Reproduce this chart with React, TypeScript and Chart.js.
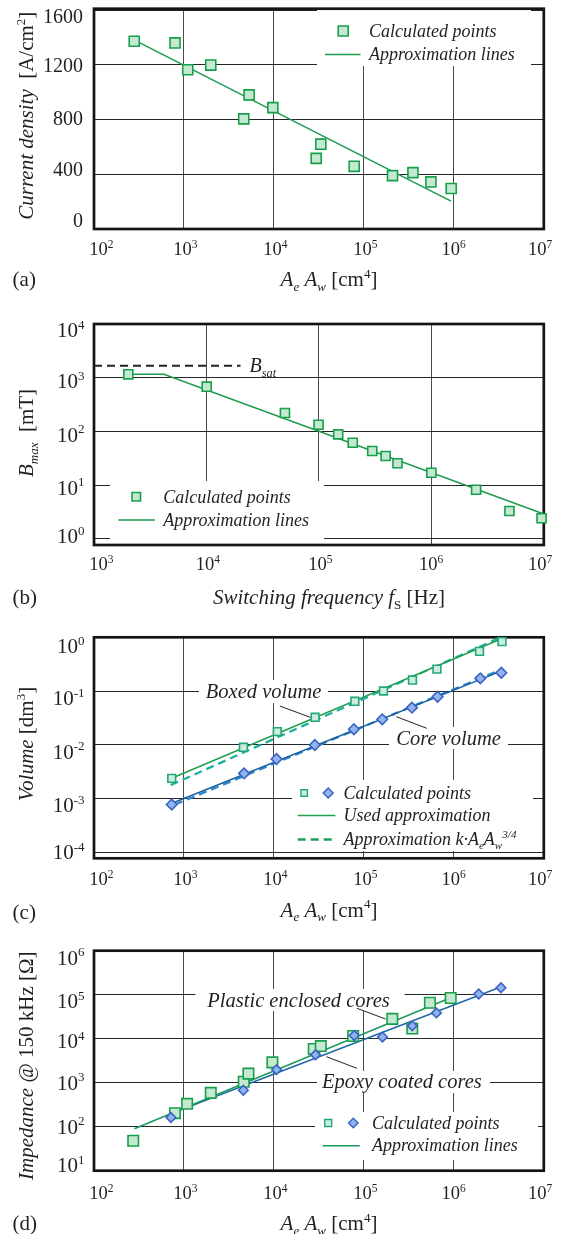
import React, { useEffect, useRef } from 'react';
import { Chart, registerables } from 'chart.js';
Chart.register(...registerables);

const W = 563;
const EXTRA_H = 24;
const FAM = '"Liberation Serif", "Times New Roman", Times, serif';
const INK = '#231f20';

// ---------- (a) Current density ----------
const aCalcX = [280, 796, 1102, 1986, 5300, 4620, 9730, 33200, 29500, 78000, 208000, 351000, 556000, 935000];
const aCalcY = [1372, 1360, 1164, 1198, 980, 805, 887, 620, 516, 458, 390, 412, 344, 296];
const aApproxX = [319, 929000];
const aApproxY = [1362, 204];
const aXTicks = [1e2, 1e3, 1e4, 1e5, 1e6, 1e7];
const aYTicks = [0, 400, 800, 1200, 1600];

// ---------- (b) Bmax vs switching frequency ----------
const bCalcX = [2018, 10050, 49900, 99300, 148500, 200000, 298000, 392000, 500000, 1000000, 2500000, 4950000, 9550000];
const bCalcY = [1157, 680, 220, 133, 88, 61.6, 43.2, 34.8, 25.5, 17.0, 8.2, 3.3, 2.41];
const bApproxX = [2018, 4190, 1e7];
const bApproxY = [1157, 1157, 2.9];
const bSatX = [1000, 20100];
const bSatY = [1670, 1670];
const bXTicks = [1e3, 1e4, 1e5, 1e6, 1e7];
const bYTicks = [1, 10, 100, 1000, 10000];

// ---------- (c) Volume ----------
const cBoxedX = [731, 4580, 10900, 28700, 79400, 165000, 347000, 649000, 1930000, 3430000];
const cBoxedY = [0.00236, 0.00895, 0.0175, 0.0324, 0.0643, 0.1, 0.16, 0.256, 0.548, 0.83];
const cCoreX = [731, 4660, 10700, 28500, 77400, 160000, 342000, 659000, 1970000, 3370000];
const cCoreY = [0.00077, 0.00292, 0.00542, 0.00987, 0.0194, 0.0297, 0.0489, 0.078, 0.172, 0.219];
const cBoxedUsedX = [731, 3430000];
const cBoxedUsedY = [0.00237, 0.95];
const cBoxedKX = [713, 3200000];
const cBoxedKY = [0.00177, 0.97];
const cCoreUsedX = [762, 3570000];
const cCoreUsedY = [0.00083, 0.245];
const cCoreKX = [796, 3400000];
const cCoreKY = [0.00077, 0.252];
const cXTicks = [1e2, 1e3, 1e4, 1e5, 1e6, 1e7];
const cYTicks = [1e-4, 1e-3, 1e-2, 1e-1, 1];

// ---------- (d) Impedance ----------
const dPlasticX = [273, 794, 1084, 1986, 4620, 5210, 9620, 27700, 33200, 76000, 207000, 345000, 542000, 923000];
const dPlasticY = [48, 203, 331, 587, 1050, 1607, 2900, 5820, 6800, 11500, 28200, 17000, 65700, 84000];
const dEpoxyX = [716, 4570, 10700, 29000, 78100, 161000, 345000, 640000, 1890000, 3340000];
const dEpoxyY = [162, 673, 1980, 4320, 11800, 10900, 19600, 38500, 104000, 144000];
const dPlasticLineX = [281, 905000];
const dPlasticLineY = [90, 84000];
const dEpoxyLineX = [723, 3370000];
const dEpoxyLineY = [200, 151000];
const dXTicks = [1e2, 1e3, 1e4, 1e5, 1e6, 1e7];
const dYTicks = [10, 100, 1e3, 1e4, 1e5, 1e6];

// ---------- colours ----------
const G_FILL = '#c4e8d0';
const G_EDGE = '#17a04b';
const G_LINE = '#1e9a4e';
const T_FILL = '#cdeedf';
const T_EDGE = '#22a67a';
const B_FILL = '#8fb4ee';
const B_EDGE = '#3b62c4';

type Seg = { t: string; i?: boolean; sub?: boolean; sup?: boolean };
type Box = [number, number, number, number];

function segFont(s: Seg, size: number) {
  const sz = s.sub || s.sup ? size * 0.62 : size;
  return `${s.i ? 'italic ' : ''}${sz.toFixed(2)}px ${FAM}`;
}
function richWidth(ctx: CanvasRenderingContext2D, segs: Seg[], size: number) {
  let w = 0;
  for (const s of segs) {
    ctx.font = segFont(s, size);
    w += ctx.measureText(s.t).width;
  }
  return w;
}
function drawRich(
  ctx: CanvasRenderingContext2D,
  segs: Seg[],
  x: number,
  y: number,
  size: number,
  align: 'left' | 'center' | 'right' = 'left',
  rot = 0
) {
  ctx.save();
  ctx.translate(x, y);
  if (rot) ctx.rotate(rot);
  const w = richWidth(ctx, segs, size);
  let cx = align === 'left' ? 0 : align === 'center' ? -w / 2 : -w;
  const base = size * 0.33;
  ctx.fillStyle = INK;
  ctx.textBaseline = 'alphabetic';
  ctx.textAlign = 'left';
  for (const s of segs) {
    ctx.font = segFont(s, size);
    const dy = s.sub ? size * 0.22 : s.sup ? -size * 0.4 : 0;
    ctx.fillText(s.t, cx, base + dy);
    cx += ctx.measureText(s.t).width;
  }
  ctx.restore();
}
function expSegs(v: number): Seg[] {
  return [{ t: '10' }, { t: String(Math.round(Math.log10(v))), sup: true }];
}
function drawSquare(ctx: CanvasRenderingContext2D, x: number, y: number, side: number, fill: string, stroke: string, lw = 1.6) {
  ctx.save();
  ctx.fillStyle = fill;
  ctx.strokeStyle = stroke;
  ctx.lineWidth = lw;
  ctx.beginPath();
  ctx.rect(x - side / 2, y - side / 2, side, side);
  ctx.fill();
  ctx.stroke();
  ctx.restore();
}
function drawDiamond(ctx: CanvasRenderingContext2D, x: number, y: number, r: number, fill: string, stroke: string, lw = 1.4) {
  ctx.save();
  ctx.fillStyle = fill;
  ctx.strokeStyle = stroke;
  ctx.lineWidth = lw;
  ctx.beginPath();
  ctx.moveTo(x - r, y);
  ctx.lineTo(x, y - r);
  ctx.lineTo(x + r, y);
  ctx.lineTo(x, y + r);
  ctx.closePath();
  ctx.fill();
  ctx.stroke();
  ctx.restore();
}
function drawSeg(ctx: CanvasRenderingContext2D, x1: number, y1: number, x2: number, y2: number, color: string, lw: number, dash: number[] = []) {
  ctx.save();
  ctx.strokeStyle = color;
  ctx.lineWidth = lw;
  ctx.setLineDash(dash);
  ctx.beginPath();
  ctx.moveTo(x1, y1);
  ctx.lineTo(x2, y2);
  ctx.stroke();
  ctx.restore();
}

const pts = (xs: number[], ys: number[]) => xs.map((x, i) => ({ x, y: ys[i] }));
function pointDs(xs: number[], ys: number[], style: string, r: number, fill: string, stroke: string, order: number) {
  return {
    data: pts(xs, ys),
    showLine: false,
    pointStyle: style,
    pointRadius: r,
    pointHoverRadius: r,
    pointBackgroundColor: fill,
    pointBorderColor: stroke,
    pointBorderWidth: 1.6,
    clip: false,
    order,
  };
}
function lineDs(xs: number[], ys: number[], color: string, w: number, dash: number[] = []) {
  return {
    data: pts(xs, ys),
    showLine: true,
    pointRadius: 0,
    pointHoverRadius: 0,
    borderColor: color,
    borderWidth: w,
    borderDash: dash,
    fill: false,
    tension: 0,
    clip: false,
    order: 5,
  };
}

interface Panel {
  top: number;
  height: number;
  area: { l: number; r: number; t: number; b: number };
  xMin: number;
  xMax: number;
  xTicks: number[];
  xOff: number[];
  xLabY: number;
  yType: 'linear' | 'logarithmic';
  yMin: number;
  yMax: number;
  yTicks: number[];
  yOff: number[];
  yLabSize: number;
  yLabRight: number;
  datasets: any[];
  boxes: Box[];
  leaders: Box[];
  xTitle: Seg[];
  xTitleY: number;
  yTitle: Seg[];
  yTitleY: number;
  tag: string;
  tagY: number;
  extra: (ctx: CanvasRenderingContext2D, chart: any) => void;
}

const AEAW: Seg[] = [
  { t: 'A', i: true },
  { t: 'e', i: true, sub: true },
  { t: ' A', i: true },
  { t: 'w', i: true, sub: true },
  { t: ' [cm' },
  { t: '4', sup: true },
  { t: ']' },
];
const X6OFF = [4.5, -1.5, -1.5, -1.5, -3, -6.5];
const LEG = 18;
const ANN = 20.5;

const panelA: Panel = {
  top: 0,
  height: 300,
  area: { l: 94, r: 543.8, t: 7.5, b: 229 },
  xMin: 1e2,
  xMax: 1e7,
  xTicks: aXTicks,
  xOff: X6OFF,
  xLabY: 249,
  yType: 'linear',
  yMin: 0,
  yMax: 1610,
  yTicks: aYTicks,
  yOff: [-9, -4.6, -0.8, 0.7, 6],
  yLabSize: 20,
  yLabRight: 83,
  datasets: [
    pointDs(aCalcX, aCalcY, 'rect', 7.1, G_FILL, G_EDGE, 0),
    lineDs(aApproxX, aApproxY, G_LINE, 1.5),
  ],
  boxes: [[317, 8, 531, 66]],
  leaders: [],
  xTitle: AEAW,
  xTitleY: 279,
  yTitle: [{ t: 'Current density', i: true }, { t: '  [A/cm' }, { t: '2', sup: true }, { t: ']' }],
  yTitleY: 115.7,
  tag: '(a)',
  tagY: 279,
  extra: (ctx) => {
    drawSquare(ctx, 343.2, 31, 10, G_FILL, G_EDGE);
    drawRich(ctx, [{ t: 'Calculated points', i: true }], 369, 31, LEG);
    drawSeg(ctx, 325, 54.5, 360.5, 54.5, G_LINE, 1.5);
    drawRich(ctx, [{ t: 'Approximation lines', i: true }], 369, 54.5, LEG);
  },
};

const panelB: Panel = {
  top: 300,
  height: 310,
  area: { l: 94, r: 543.8, t: 24, b: 245 },
  xMin: 1e3,
  xMax: 1e7,
  xTicks: bXTicks,
  xOff: [4.5, -1.5, -1.5, -3, -6.5],
  xLabY: 264,
  yType: 'logarithmic',
  yMin: 0.767,
  yMax: 1e4,
  yTicks: bYTicks,
  yOff: [-2.4, 2.8, 3.3, 3.5, 6],
  yLabSize: 21,
  yLabRight: 84.5,
  datasets: [
    pointDs(bCalcX, bCalcY, 'rect', 6.4, G_FILL, G_EDGE, 0),
    lineDs(bApproxX, bApproxY, G_LINE, 1.5),
    lineDs(bSatX, bSatY, '#222', 2.2, [8, 5]),
  ],
  boxes: [[110, 181, 324, 244]],
  leaders: [],
  xTitle: [
    { t: 'Switching frequency ', i: true },
    { t: 'f', i: true },
    { t: 'S', sub: true },
    { t: ' [Hz]' },
  ],
  xTitleY: 297.5,
  yTitle: [{ t: 'B', i: true }, { t: 'max', i: true, sub: true }, { t: '  [mT]' }],
  yTitleY: 133,
  tag: '(b)',
  tagY: 297,
  extra: (ctx, chart) => {
    drawSquare(ctx, 136.3, 196.7, 8.5, G_FILL, G_EDGE);
    drawRich(ctx, [{ t: 'Calculated points', i: true }], 163.2, 196.7, LEG);
    drawSeg(ctx, 118.4, 220, 155, 220, G_LINE, 1.5);
    drawRich(ctx, [{ t: 'Approximation lines', i: true }], 163.2, 220, LEG);
    const sx = chart.scales.x.getPixelForValue(bSatX[1]) + 9;
    const sy = chart.scales.y.getPixelForValue(bSatY[1]);
    drawRich(ctx, [{ t: 'B', i: true }, { t: 'sat', i: true, sub: true }], sx, sy, 20);
  },
};

const panelC: Panel = {
  top: 610,
  height: 310,
  area: { l: 94, r: 543.8, t: 27.3, b: 248.3 },
  xMin: 1e2,
  xMax: 1e7,
  xTicks: cXTicks,
  xOff: X6OFF,
  xLabY: 269,
  yType: 'logarithmic',
  yMin: 7.67e-5,
  yMax: 1,
  yTicks: cYTicks,
  yOff: [0, 6.7, 7, 7.3, 9],
  yLabSize: 21,
  yLabRight: 84.5,
  datasets: [
    pointDs(cCoreX, cCoreY, 'rectRot', 5.3, B_FILL, B_EDGE, 0),
    pointDs(cBoxedX, cBoxedY, 'rect', 5.5, T_FILL, T_EDGE, 1),
    lineDs(cBoxedUsedX, cBoxedUsedY, '#22a050', 1.5),
    lineDs(cBoxedKX, cBoxedKY, '#1eb0a2', 2.3, [8, 5]),
    lineDs(cCoreUsedX, cCoreUsedY, '#1a5f9e', 1.5),
    lineDs(cCoreKX, cCoreKY, '#2d86cf', 2.3, [8, 5]),
  ],
  boxes: [
    [199, 70, 328, 93],
    [389, 117, 508, 139],
    [292, 170, 533, 241],
  ],
  leaders: [
    [279.8, 96, 310.2, 107.3],
    [396.3, 106.7, 426.8, 118.3],
  ],
  xTitle: AEAW,
  xTitleY: 299.7,
  yTitle: [{ t: 'Volume', i: true }, { t: ' [dm' }, { t: '3', sup: true }, { t: ']' }],
  yTitleY: 134,
  tag: '(c)',
  tagY: 302,
  extra: (ctx) => {
    drawRich(ctx, [{ t: 'Boxed volume', i: true }], 263.6, 81.7, ANN, 'center');
    drawRich(ctx, [{ t: 'Core volume', i: true }], 396.3, 128, ANN);
    drawSquare(ctx, 304.2, 183, 6.5, T_FILL, T_EDGE, 1.4);
    drawDiamond(ctx, 328.2, 183, 5, B_FILL, B_EDGE);
    drawRich(ctx, [{ t: 'Calculated points', i: true }], 343.6, 183, LEG);
    drawSeg(ctx, 297.7, 205.5, 335.4, 205.5, '#22a050', 1.5);
    drawRich(ctx, [{ t: 'Used approximation', i: true }], 343.6, 205.3, LEG);
    drawSeg(ctx, 297.7, 229.5, 335.4, 229.5, '#1c9e58', 2.3, [8, 5]);
    drawRich(
      ctx,
      [
        { t: 'Approximation k·A', i: true },
        { t: 'e', i: true, sub: true },
        { t: 'A', i: true },
        { t: 'w', i: true, sub: true },
        { t: '3/4', i: true, sup: true },
      ],
      343.6,
      228.8,
      LEG
    );
  },
};

const panelD: Panel = {
  top: 920,
  height: 314,
  area: { l: 94, r: 543.8, t: 30.7, b: 250.7 },
  xMin: 1e2,
  xMax: 1e7,
  xTicks: dXTicks,
  xOff: X6OFF,
  xLabY: 273.3,
  yType: 'logarithmic',
  yMin: 10,
  yMax: 1e6,
  yTicks: dYTicks,
  yOff: [-5.7, 0, 0, 2.7, 6.5, 7],
  yLabSize: 21,
  yLabRight: 84.5,
  datasets: [
    pointDs(dEpoxyX, dEpoxyY, 'rectRot', 4.8, B_FILL, B_EDGE, 0),
    pointDs(dPlasticX, dPlasticY, 'rect', 7.4, G_FILL, G_EDGE, 1),
    lineDs(dPlasticLineX, dPlasticLineY, '#1a9a5c', 1.5),
    lineDs(dEpoxyLineX, dEpoxyLineY, '#1e6aa6', 1.5),
  ],
  boxes: [
    [195.5, 69, 404.6, 91],
    [317, 151, 490, 173],
    [315, 192, 538, 240],
  ],
  leaders: [
    [356.9, 88.3, 385.5, 99],
    [326.4, 136.7, 356.9, 148.3],
  ],
  xTitle: AEAW,
  xTitleY: 303.3,
  yTitle: [{ t: 'Impedance', i: true }, { t: ' @ 150 kHz [Ω]' }],
  yTitleY: 145.7,
  tag: '(d)',
  tagY: 303,
  extra: (ctx) => {
    drawRich(ctx, [{ t: 'Plastic enclosed cores', i: true }], 207.3, 80, ANN);
    drawRich(ctx, [{ t: 'Epoxy coated cores', i: true }], 322, 161.3, ANN);
    drawSquare(ctx, 328.2, 203, 7, T_FILL, T_EDGE, 1.4);
    drawDiamond(ctx, 353.3, 203, 4.8, B_FILL, B_EDGE);
    drawRich(ctx, [{ t: 'Calculated points', i: true }], 372, 203, LEG);
    drawSeg(ctx, 322.8, 225.7, 359.7, 225.7, '#1a9a5c', 1.5);
    drawRich(ctx, [{ t: 'Approximation lines', i: true }], 372, 225.3, LEG);
  },
};

const PANELS = [panelA, panelB, panelC, panelD];
const X_TICK = 18.5;

function buildConfig(p: Panel): any {
  const canvasH = p.height + EXTRA_H;
  const deco = {
    id: 'deco',
    beforeDatasetsDraw(chart: any) {
      const ctx: CanvasRenderingContext2D = chart.ctx;
      ctx.save();
      ctx.fillStyle = '#ffffff';
      p.boxes.forEach((b) => ctx.fillRect(b[0], b[1], b[2] - b[0], b[3] - b[1]));
      const a = chart.chartArea;
      ctx.strokeStyle = '#141414';
      ctx.lineWidth = 2.7;
      ctx.strokeRect(a.left, a.top, a.right - a.left, a.bottom - a.top);
      ctx.restore();
    },
    afterDatasetsDraw(chart: any) {
      const ctx: CanvasRenderingContext2D = chart.ctx;
      p.leaders.forEach((l) => drawSeg(ctx, l[0], l[1], l[2], l[3], '#222', 1));
    },
    afterDraw(chart: any) {
      const ctx: CanvasRenderingContext2D = chart.ctx;
      const xs = chart.scales.x;
      const ys = chart.scales.y;
      ctx.save();
      p.xTicks.forEach((v, i) => {
        const px = xs.getPixelForValue(v) + p.xOff[i];
        ctx.font = segFont({ t: '10' }, X_TICK);
        const w = ctx.measureText('10').width;
        drawRich(ctx, expSegs(v), px - w / 2, p.xLabY, X_TICK, 'left');
      });
      p.yTicks.forEach((v, i) => {
        const py = ys.getPixelForValue(v) + p.yOff[i];
        const segs = p.yType === 'logarithmic' ? expSegs(v) : [{ t: String(v) }];
        drawRich(ctx, segs, p.yLabRight, py, p.yLabSize, 'right');
      });
      drawRich(ctx, p.xTitle, 329, p.xTitleY, 21, 'center');
      drawRich(ctx, p.yTitle, 26.5, p.yTitleY, 21, 'center', -Math.PI / 2);
      drawRich(ctx, [{ t: p.tag }], 12.6, p.tagY, 21, 'left');
      p.extra(ctx, chart);
      ctx.restore();
    },
  };
  return {
    type: 'scatter',
    data: { datasets: p.datasets },
    options: {
      responsive: false,
      maintainAspectRatio: false,
      animation: false,
      devicePixelRatio: 1,
      events: [],
      layout: { padding: { left: 0, right: W - p.area.r, top: p.area.t, bottom: 0 } },
      plugins: { legend: { display: false }, tooltip: { enabled: false } },
      scales: {
        x: {
          type: 'logarithmic',
          min: p.xMin,
          max: p.xMax,
          afterBuildTicks: (s: any) => {
            s.ticks = p.xTicks.map((v) => ({ value: v }));
          },
          afterFit: (s: any) => {
            s.height = canvasH - p.area.b;
          },
          ticks: { display: false },
          grid: { color: '#4a4a4a', lineWidth: 1, drawTicks: false },
          border: { display: false },
        },
        y: {
          type: p.yType,
          min: p.yMin,
          max: p.yMax,
          afterBuildTicks: (s: any) => {
            s.ticks = p.yTicks.map((v) => ({ value: v }));
          },
          afterFit: (s: any) => {
            s.width = p.area.l;
          },
          ticks: { display: false },
          grid: { color: '#262626', lineWidth: 1, drawTicks: false },
          border: { display: false },
        },
      },
    },
    plugins: [deco],
  };
}

export default function App() {
  const holder = useRef<(HTMLCanvasElement | null)[]>([]);
  useEffect(() => {
    const charts = PANELS.map((p, i) => new Chart(holder.current[i] as HTMLCanvasElement, buildConfig(p)));
    return () => charts.forEach((c) => c.destroy());
  }, []);
  return (
    <div>
      {PANELS.map((p, i) => (
        <canvas
          key={i}
          ref={(el) => {
            holder.current[i] = el;
          }}
          width={W}
          height={p.height + EXTRA_H}
          style={{
            position: 'absolute',
            left: 0,
            top: p.top,
            width: W,
            height: p.height + EXTRA_H,
            display: 'block',
          }}
        />
      ))}
    </div>
  );
}
